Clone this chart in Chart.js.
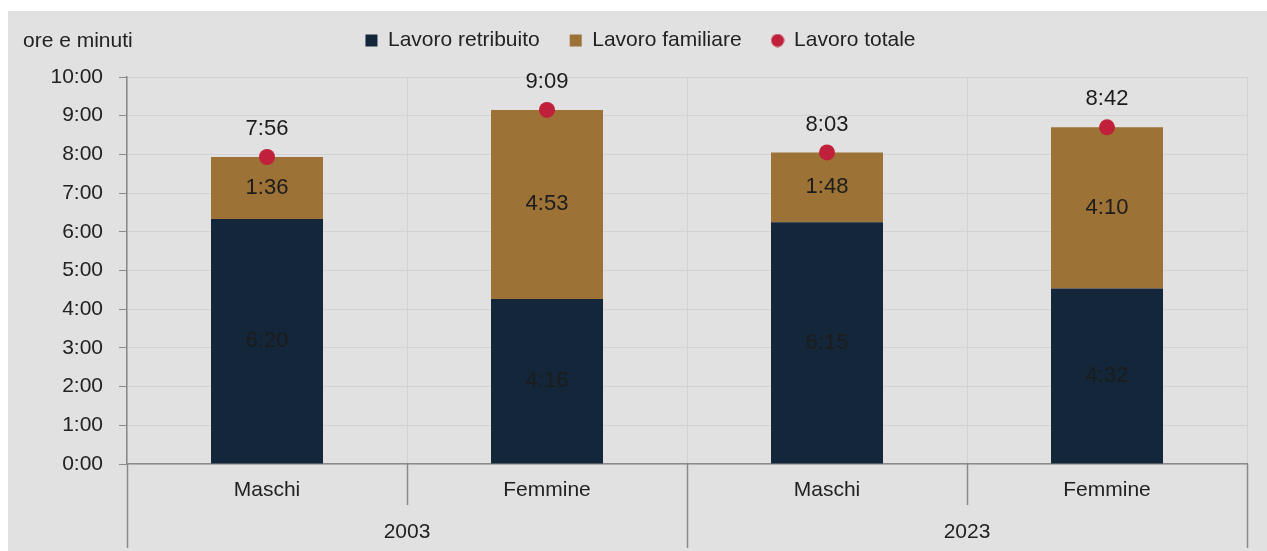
<!DOCTYPE html>
<html>
<head>
<meta charset="utf-8">
<script src="https://cdn.jsdelivr.net/npm/chart.js@4.4.0/dist/chart.umd.min.js"></script>
<style>
  html, body { margin: 0; padding: 0; background: #fff; }
  #wrap { width: 1267px; height: 551px; }
</style>
</head>
<body>
<div id="wrap"><canvas id="timeChart"></canvas></div>
<script>
// dati in minuti al giorno
const sexes = ['Maschi', 'Femmine', 'Maschi', 'Femmine'];
const years = ['2003', '2023'];
const paidWork = [380, 256, 375, 272];
const familyWork = [96, 293, 108, 250];
const totalWork = [476, 549, 483, 522];
const tickLabels = ['0:00', '1:00', '2:00', '3:00', '4:00', '5:00', '6:00', '7:00', '8:00', '9:00', '10:00'];

const NAVY = '#13263a';
const GOLD = '#9c7236';
const RED = '#c0203a';
const FONT = "'Liberation Sans', Arial, sans-serif";

function hm(m) {
  return Math.floor(m / 60) + ':' + String(m % 60).padStart(2, '0');
}

// small dot for the legend
const dot = document.createElement('canvas');
dot.width = 14; dot.height = 14;
const dctx = dot.getContext('2d');
dctx.fillStyle = RED;
dctx.beginPath(); dctx.arc(7, 7, 6.5, 0, Math.PI * 2); dctx.fill();

const background = {
  id: 'background',
  beforeDraw(chart) {
    const ctx = chart.ctx;
    ctx.save();
    ctx.fillStyle = '#fff';
    ctx.fillRect(0, 0, chart.width, chart.height);
    ctx.fillStyle = '#e1e1e1';
    ctx.fillRect(8, 11, chart.width - 8, chart.height - 11);
    ctx.restore();
  }
};

const legendFit = {
  id: 'legendFit',
  beforeInit(chart) {
    const fit = chart.legend.fit;
    chart.legend.fit = function () { fit.bind(chart.legend)(); this.height = 77; };
  },
  afterLayout(chart) {
    chart.legend.left += 17;
    chart.legend.right += 17;
  }
};

const labelsAndGroups = {
  id: 'labelsAndGroups',
  afterDatasetsDraw(chart) {
    const ctx = chart.ctx;
    ctx.save();
    ctx.textAlign = 'center';
    ctx.textBaseline = 'middle';
    ctx.font = '22px ' + FONT;
    ctx.fillStyle = '#1c1c1c';
    [0, 1].forEach(di => {
      chart.getDatasetMeta(di).data.forEach((bar, i) => {
        const v = chart.data.datasets[di].data[i];
        ctx.fillText(hm(v), bar.x, (bar.y + bar.base) / 2);
      });
    });
    chart.getDatasetMeta(2).data.forEach((pt, i) => {
      ctx.fillText(hm(totalWork[i]), pt.x, pt.y - 28);
    });
    ctx.restore();
  },
  afterDraw(chart) {
    const ctx = chart.ctx;
    const x = chart.scales.x;
    const bottom = chart.chartArea.bottom;
    ctx.save();
    ctx.strokeStyle = '#8a8a8a';
    ctx.lineWidth = 1.5;
    for (let i = 0; i <= sexes.length; i++) {
      const px = Math.round(x.getPixelForValue(i - 0.5)) + 0.5;
      ctx.beginPath();
      ctx.moveTo(px, bottom);
      ctx.lineTo(px, i % 2 === 0 ? 548 : 505);
      ctx.stroke();
    }
    ctx.fillStyle = '#222';
    ctx.font = '21px ' + FONT;
    ctx.textAlign = 'center';
    ctx.textBaseline = 'middle';
    years.forEach((y, g) => {
      ctx.fillText(y, x.getPixelForValue(g * 2 + 0.5), 532);
    });
    ctx.textAlign = 'left';
    ctx.fillText('ore e minuti', 23, 41);
    ctx.restore();
  }
};

new Chart(document.getElementById('timeChart').getContext('2d'), {
  type: 'bar',
  data: {
    labels: sexes,
    datasets: [
      { label: 'Lavoro retribuito', data: paidWork, backgroundColor: NAVY, stack: 's' },
      { label: 'Lavoro familiare', data: familyWork, backgroundColor: GOLD, stack: 's' },
      {
        type: 'line', label: 'Lavoro totale', data: totalWork, showLine: false,
        pointRadius: 8, pointHoverRadius: 8, pointBorderWidth: 0,
        backgroundColor: RED, borderColor: RED, order: -1
      }
    ]
  },
  options: {
    responsive: true,
    maintainAspectRatio: false,
    animation: false,
    layout: { padding: { top: 0, left: 0, right: 20, bottom: 0 } },
    datasets: { bar: { categoryPercentage: 1, barPercentage: 0.4 } },
    plugins: {
      tooltip: { enabled: false },
      legend: {
        position: 'top',
        labels: {
          usePointStyle: true,
          boxWidth: 12,
          boxHeight: 12,
          padding: 30,
          color: '#222',
          font: { family: FONT, size: 21 },
          sort: (a, b) => a.datasetIndex - b.datasetIndex,
          generateLabels(chart) {
            return Chart.defaults.plugins.legend.labels.generateLabels(chart).map(item => {
              item.pointStyle = item.datasetIndex === 2 ? dot : 'rect';
              item.lineWidth = 0;
              return item;
            });
          }
        }
      }
    },
    scales: {
      x: {
        stacked: true,
        afterFit(scale) { scale.height = 87; },
        grid: {
          drawTicks: false,
          color: '#d2d2d2',
          lineWidth: 1
        },
        border: { color: '#8a8a8a', width: 1.5 },
        ticks: { padding: 14, color: '#222', font: { family: FONT, size: 21 } }
      },
      y: {
        stacked: true,
        min: 0,
        max: 600,
        afterFit(scale) { scale.width = 127; },
        grid: { color: '#d2d2d2', tickColor: '#8a8a8a', tickLength: 8 },
        border: { color: '#8a8a8a', width: 1.5 },
        ticks: {
          stepSize: 60,
          padding: 16,
          color: '#222',
          font: { family: FONT, size: 21 },
          callback: v => tickLabels[v / 60]
        }
      }
    }
  },
  plugins: [background, legendFit, labelsAndGroups]
});
</script>
</body>
</html>
